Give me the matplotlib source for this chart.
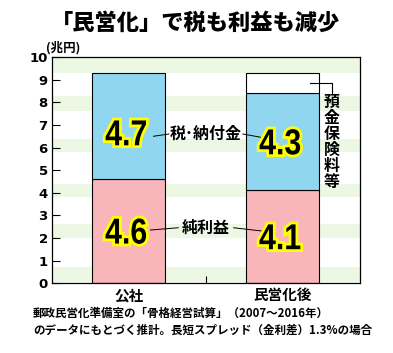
import matplotlib.pyplot as plt
import matplotlib.patheffects as pe
import matplotlib.transforms as mtransforms
from matplotlib.textpath import TextPath
from matplotlib.patches import PathPatch
from matplotlib.font_manager import FontProperties
import numpy as np

plt.rcParams['font.family'] = ['Noto Sans CJK JP', 'DejaVu Sans']

# データ (兆円)
categories = ['公社', '民営化後']
net_profit = [4.6, 4.1]      # 純利益
tax_payment = [4.7, 4.3]     # 税・納付金
insurance = [0.0, 0.9]       # 預金保険料等
y_ticks = list(range(0, 11))

pink = '#f8b6ba'
blue = '#90d6f0'
stripe = '#ecf8e4'

fig = plt.figure(figsize=(3.93, 3.53), dpi=100)
ax = fig.add_axes([0.132, 0.198, 0.784, 0.640])

x = np.arange(len(categories))
w = 0.474
profit = np.array(net_profit)
tax = np.array(tax_payment)
ins = np.array(insurance)

# 背景の薄い緑の縞
for lo, hi in [(9.3, 10), (7.6, 8.3), (5.8, 6.4), (3.8, 4.4), (2.0, 2.6), (0.05, 0.7)]:
    ax.axhspan(lo, hi, color=stripe, zorder=0, lw=0)

ax.bar(x, profit, w, color=pink, edgecolor='black', linewidth=0.8, zorder=2)
ax.bar(x, tax, w, bottom=profit, color=blue, edgecolor='black', linewidth=0.8, zorder=2)
ax.bar(x[ins > 0], ins[ins > 0], w, bottom=(profit + tax)[ins > 0],
       color='white', edgecolor='black', linewidth=0.8, zorder=2)

ax.set_xlim(-0.5, 1.5)
ax.set_ylim(0, 10)
ax.set_yticks(y_ticks)
ax.set_yticklabels([str(t) for t in y_ticks], fontsize=9.5, fontweight='bold', family='DejaVu Sans')
ax.tick_params(axis='y', direction='in', length=6, width=0.8, pad=3)
ax.set_xticks(x)
ax.set_xticklabels(categories, fontsize=10.5, fontweight='bold')
ax.set_xticks([0.5], minor=True)
ax.tick_params(axis='x', which='major', length=0, pad=3)
ax.tick_params(axis='x', which='minor', direction='in', length=5, width=0.8)
for s in ax.spines.values():
    s.set_linewidth(0.9)

# 数値ラベル (縦長の太字＋黄色の縁取り)
num_prop = FontProperties(family='Liberation Sans', weight='bold')


def big_number(xd, yd, s, size=26, squeeze=0.84):
    tp = TextPath((0, 0), s, size=size, prop=num_prop)
    bb = tp.get_extents()
    cx, cy = (bb.x0 + bb.x1) / 2, (bb.y0 + bb.y1) / 2
    tr = (mtransforms.Affine2D().translate(-cx, -cy).scale(squeeze / 72, 1 / 72)
          + fig.dpi_scale_trans
          + mtransforms.ScaledTranslation(xd, yd, ax.transData))
    patch = PathPatch(tp, transform=tr, facecolor='black', edgecolor='none', zorder=4,
                      path_effects=[pe.withStroke(linewidth=4, foreground='#ffff00')])
    ax.add_artist(patch)


for i in range(len(categories)):
    big_number(x[i] - 0.02, profit[i] / 2, f'{profit[i]:.1f}')
    ym = profit[i] + tax[i] / 2
    if i == 0:
        ym -= 0.3
    big_number(x[i] - 0.02, ym, f'{tax[i]:.1f}')

# 注記
lab = dict(fontsize=11.5, fontweight='bold', ha='center', va='center', zorder=4)
ax.text(0.5, 6.6, '税･納付金', **lab)
ax.plot([0.16, 0.26], [6.5, 6.6], color='black', lw=0.7, zorder=3)
ax.plot([0.74, 0.86], [6.6, 6.45], color='black', lw=0.7, zorder=3)
ax.text(0.5, 2.45, '純利益', **lab)
ax.plot([0.14, 0.32], [2.35, 2.45], color='black', lw=0.7, zorder=3)
ax.plot([0.68, 0.87], [2.45, 2.3], color='black', lw=0.7, zorder=3)

top_white = profit[1] + tax[1] + ins[1] / 2
ax.plot([1.175, 1.318, 1.318], [top_white, top_white, profit[1] + tax[1]],
        color='black', lw=0.8, zorder=3)
ax.text(1.318, 6.25, '\n'.join('預金保険料等'), fontsize=11.5, fontweight='bold',
        ha='center', va='center', linespacing=1.0, zorder=4)

# タイトル・単位・注
fig.text(0.497, 0.935, '「民営化」で税も利益も減少', fontsize=16, fontweight='heavy',
         ha='center', va='center')
fig.text(0.118, 0.866, '(兆円)', fontsize=9, fontweight='bold', ha='left', va='center')
fig.text(0.084, 0.113, '郵政民営化準備室の「骨格経営試算」（2007～2016年）',
         fontsize=8.3, fontweight='bold', ha='left', va='center')
fig.text(0.084, 0.063, 'のデータにもとづく推計。長短スプレッド（金利差）1.3%の場合',
         fontsize=8.3, fontweight='bold', ha='left', va='center')

plt.savefig('out.png', dpi=100)
